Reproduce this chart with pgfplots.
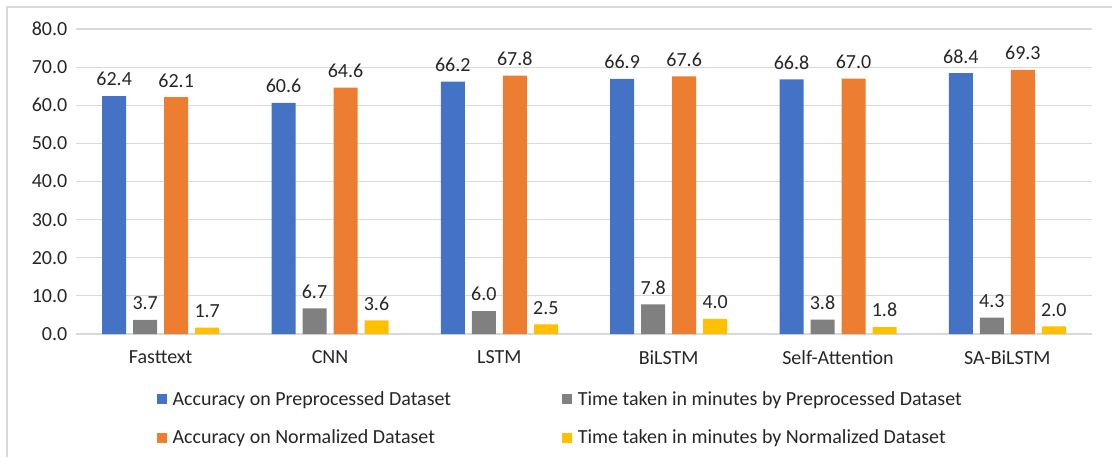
\documentclass[border=0pt]{standalone}
\usepackage{pgfplots}
\pgfplotsset{compat=1.18}
\usepackage{fontspec}
\setmainfont{Carlito}
\definecolor{cblue}{HTML}{4472C4}
\definecolor{corange}{HTML}{ED7D31}
\definecolor{cgray}{HTML}{808080}
\definecolor{cyellow}{HTML}{FFC000}
\definecolor{cgrid}{HTML}{D9D9D9}
\begin{document}
\begin{tikzpicture}
\useasboundingbox (-57pt,-92.25pt) rectangle (777pt,250.5pt);
\draw[cgrid,line width=0.8pt] (-51.75pt,-92.25pt) -- (-51.75pt,245.25pt) -- (777pt,245.25pt);
\begin{axis}[
  at={(0,0)}, anchor=south west,
  scale only axis, width=762pt, height=228.75pt,
  ybar=5.25pt, bar width=18pt,
  xmin=-0.5, xmax=5.5, ymin=0, ymax=80,
  xtick={0,1,2,3,4,5},
  xticklabels={Fasttext,CNN,LSTM,BiLSTM,Self-Attention,SA-BiLSTM},
  ytick={0,10,...,80},
  yticklabel style={xshift=-3pt,/pgf/number format/fixed,/pgf/number format/fixed zerofill,/pgf/number format/precision=1,/pgf/number format/assume math mode=true},
  ymajorgrids, grid style={cgrid,line width=0.8pt},
  axis line style={draw=none},
  major tick length=0pt,
  tick label style={font=\fontsize{15}{18}\selectfont, text=black!85},
  xticklabel style={yshift=-9pt},
  nodes near coords,
  every node near coord/.append style={font=\fontsize{15}{18}\selectfont, text=black!85, yshift=4pt,
    /pgf/number format/fixed,/pgf/number format/fixed zerofill,/pgf/number format/precision=1,/pgf/number format/assume math mode=true},
  legend style={draw=none, inner sep=0pt, at={(0.0797,-0.179)}, anchor=north west, legend columns=2,
    font=\fontsize{15}{18}\selectfont, text=black!85,
    cells={anchor=west},
    /tikz/every odd column/.append style={column sep=2pt},
    /tikz/every even column/.append style={column sep=81.5pt},
    row sep=13pt},
  legend image code/.code={\fill (0pt,-3.75pt) rectangle (7.5pt,3.75pt);},
]
\addplot[fill=cblue,draw=none] coordinates {(0,62.4) (1,60.6) (2,66.2) (3,66.9) (4,66.8) (5,68.4)};
\addlegendentry{Accuracy on Preprocessed Dataset}
\addplot[fill=cgray,draw=none] coordinates {(0,3.7) (1,6.7) (2,6.0) (3,7.8) (4,3.8) (5,4.3)};
\addlegendentry{Time taken in minutes by Preprocessed Dataset}
\addplot[fill=corange,draw=none] coordinates {(0,62.1) (1,64.6) (2,67.8) (3,67.6) (4,67.0) (5,69.3)};
\addlegendentry{Accuracy on Normalized Dataset}
\addplot[fill=cyellow,draw=none] coordinates {(0,1.7) (1,3.6) (2,2.5) (3,4.0) (4,1.8) (5,2.0)};
\addlegendentry{Time taken in minutes by Normalized Dataset}
\end{axis}
\end{tikzpicture}
\end{document}
